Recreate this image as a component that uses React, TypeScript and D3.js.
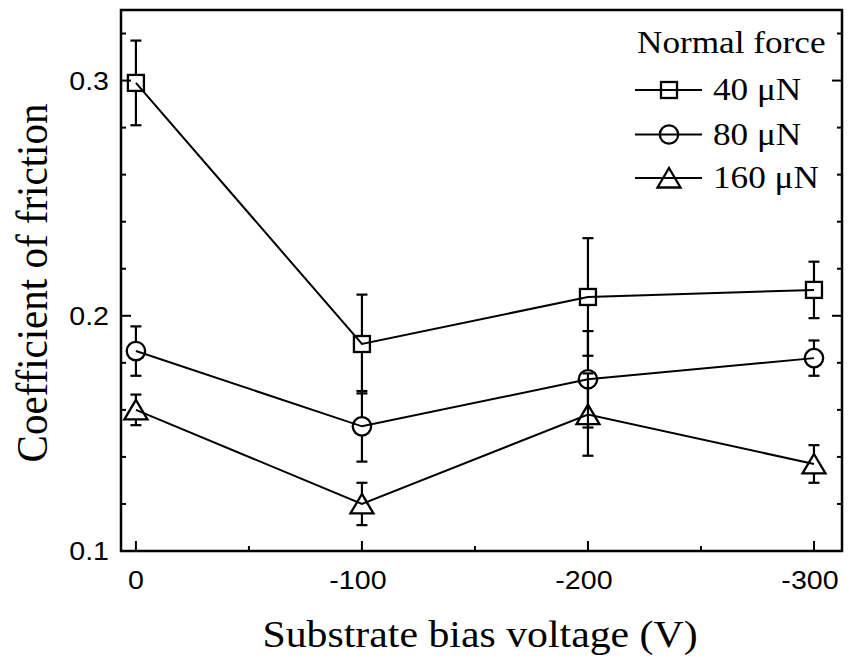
import React from "react";
import * as d3 from "d3";

// substrate bias (V) and friction coefficient per normal force
const biasVoltage = [0, -100, -200, -300];
const seriesLabels = ["40 μN", "80 μN", "160 μN"];
const cof40 = [0.299, 0.188, 0.208, 0.211];
const err40 = [0.018, 0.021, 0.025, 0.012];
const cof80 = [0.185, 0.153, 0.173, 0.182];
const err80 = [0.0105, 0.015, 0.0205, 0.0075];
const cof160 = [0.16, 0.12, 0.158, 0.137];
const err160 = [0.0065, 0.009, 0.0175, 0.008];
const yTicks = [0.1, 0.2, 0.3];
const yMinorTicks = [0.12, 0.14, 0.16, 0.18, 0.22, 0.24, 0.26, 0.28, 0.32];
const xTicks = [0, -100, -200, -300];
const xMinorTicks = [-50, -150, -250];

const W = 851;
const H = 663;
const plot = { left: 121, right: 842, top: 10, bottom: 551 };
const SX = 1.1; // glyphs in the reference are a bit wider than tall

const x = d3.scaleLinear().domain([6.6, -312.4]).range([plot.left, plot.right]);
const y = d3.scaleLinear().domain([0.1, 0.33]).range([plot.bottom, plot.top]);

type Shape = "square" | "circle" | "triangle";
const shapes: Shape[] = ["square", "circle", "triangle"];
const halfH: Record<Shape, number> = { square: 8, circle: 9, triangle: 10 };

const series = [
  { values: cof40, errors: err40 },
  { values: cof80, errors: err80 },
  { values: cof160, errors: err160 },
];

const Marker = ({ shape, cx, cy }: { shape: Shape; cx: number; cy: number }) => {
  const common = { fill: "none", stroke: "#000", strokeWidth: 2.3 };
  if (shape === "square") return <rect x={cx - 8} y={cy - 8} width={16} height={16} {...common} />;
  if (shape === "circle") return <circle cx={cx} cy={cy} r={9.2} {...common} />;
  const p = d3.path();
  p.moveTo(cx, cy - 10);
  p.lineTo(cx + 11.5, cy + 9.5);
  p.lineTo(cx - 11.5, cy + 9.5);
  p.closePath();
  return <path d={p.toString()} strokeLinejoin="miter" {...common} />;
};

const Txt = ({ x: tx, y: ty, children, size, family, anchor = "start", rotate = 0 }: any) => (
  <g transform={`translate(${tx},${ty}) rotate(${rotate}) scale(${rotate ? 1 : SX},${rotate ? SX : 1})`}>
    <text fontFamily={family} fontSize={size} textAnchor={anchor} fill="#000">
      {children}
    </text>
  </g>
);

const sans = "'Liberation Sans', Arial, sans-serif";
const serif = "'Liberation Serif', 'Times New Roman', serif";

export default function App() {
  const line = d3
    .line<number>()
    .x((_, i) => x(biasVoltage[i]))
    .y((d) => y(d));

  const legendRows = [90, 134.5, 178];

  return (
    <svg width={W} height={H} style={{ position: "absolute", left: 0, top: 0, background: "#fff" }}>
      <rect width={W} height={H} fill="#fff" />

      {/* ticks */}
      {yTicks.map((t) => (
        <g key={"y" + t}>
          <line x1={plot.left} x2={plot.left + 10} y1={y(t)} y2={y(t)} stroke="#000" strokeWidth={2} />
          <line x1={plot.right} x2={plot.right - 10} y1={y(t)} y2={y(t)} stroke="#000" strokeWidth={2} />
          <Txt x={109} y={y(t) + 9} size={26} family={sans} anchor="end">
            {t.toFixed(1)}
          </Txt>
        </g>
      ))}
      {yMinorTicks.map((t) => (
        <g key={"ym" + t}>
          <line x1={plot.left} x2={plot.left + 5} y1={y(t)} y2={y(t)} stroke="#000" strokeWidth={2} />
          <line x1={plot.right} x2={plot.right - 5} y1={y(t)} y2={y(t)} stroke="#000" strokeWidth={2} />
        </g>
      ))}
      {xTicks.map((t) => (
        <g key={"x" + t}>
          <line x1={x(t)} x2={x(t)} y1={plot.bottom} y2={plot.bottom - 10} stroke="#000" strokeWidth={2} />
          <Txt x={x(t) - (t === 0 ? 0 : 4)} y={589} size={26} family={sans} anchor="middle">
            {String(t)}
          </Txt>
        </g>
      ))}
      {xMinorTicks.map((t) => (
        <line key={"xm" + t} x1={x(t)} x2={x(t)} y1={plot.bottom} y2={plot.bottom - 5} stroke="#000" strokeWidth={2} />
      ))}

      {/* frame */}
      <rect
        x={plot.left}
        y={plot.top}
        width={plot.right - plot.left}
        height={plot.bottom - plot.top}
        fill="none"
        stroke="#000"
        strokeWidth={2.5}
      />

      {/* series */}
      {series.map((s, si) => {
        const shape = shapes[si];
        const h = halfH[shape];
        return (
          <g key={"s" + si}>
            <path d={line(s.values) || ""} fill="none" stroke="#000" strokeWidth={2} />
            {s.values.map((v, i) => {
              const cx = x(biasVoltage[i]);
              const cy = y(v);
              const top = y(v + s.errors[i]);
              const bot = y(v - s.errors[i]);
              return (
                <g key={i}>
                  {cy - top > h && <line x1={cx} x2={cx} y1={cy - h} y2={top} stroke="#000" strokeWidth={2.2} />}
                  {bot - cy > h && <line x1={cx} x2={cx} y1={cy + h} y2={bot} stroke="#000" strokeWidth={2.2} />}
                  <line x1={cx - 5.5} x2={cx + 5.5} y1={top} y2={top} stroke="#000" strokeWidth={2.2} />
                  <line x1={cx - 5.5} x2={cx + 5.5} y1={bot} y2={bot} stroke="#000" strokeWidth={2.2} />
                  <Marker shape={shape} cx={cx} cy={cy} />
                </g>
              );
            })}
          </g>
        );
      })}

      {/* legend */}
      <Txt x={637} y={53} size={32} family={serif}>
        Normal force
      </Txt>
      {seriesLabels.map((lab, i) => (
        <g key={lab}>
          <line x1={635} x2={702} y1={legendRows[i]} y2={legendRows[i]} stroke="#000" strokeWidth={2} />
          <Marker shape={shapes[i]} cx={669} cy={legendRows[i]} />
          <Txt x={713} y={legendRows[i] + 10} size={32} family={serif}>
            {lab}
          </Txt>
        </g>
      ))}

      {/* axis titles */}
      <Txt x={480} y={647} size={38} family={serif} anchor="middle">
        Substrate bias voltage (V)
      </Txt>
      <Txt x={47} y={283} size={41} family={serif} anchor="middle" rotate={-90}>
        Coefficient of friction
      </Txt>
    </svg>
  );
}
